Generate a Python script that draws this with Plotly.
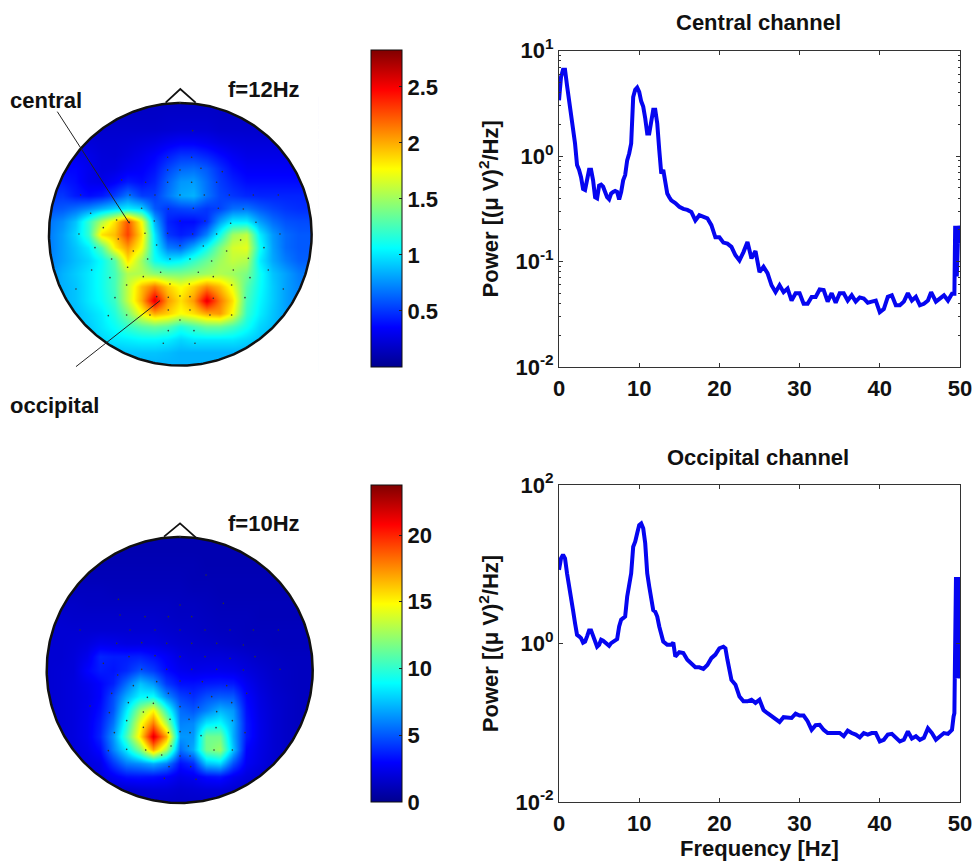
import numpy as np
import plotly.graph_objects as go

# ---------- spectra: log10 power ----------
central_freq = [0,.25,.5,.75,1,1.25,1.5,1.75,2,2.25,2.5,2.75,3,3.25,3.5,3.75,4,4.25,4.5,4.75,5,5.25,5.5,5.75,6,6.25,6.5,6.75,7,7.25,7.5,7.75,8,8.25,8.5,8.75,9,9.25,9.5,9.75,10,10.25,10.5,10.75,11,11.25,11.5,11.75,12,12.25,12.5,12.75,13,13.25,13.5,13.75,14,14.5,15,15.5,16,16.5,17,17.5,18,18.5,19,19.5,20,20.5,21,21.5,22,22.5,23,23.5,24,24.5,25,25.5,26,26.5,27,27.5,28,28.5,29,29.5,30,30.5,31,31.5,32,32.5,33,33.5,34,34.5,35,35.5,36,36.5,37,37.5,38,38.5,39,39.5,40,40.5,41,41.5,42,42.5,43,43.5,44,44.5,45,45.5,46,46.4,47,47.5,48,48.5,49,49.3,49.35,49.4,49.6,49.8,49.95]
central_log_power = [.53,.75,.82,.82,.67,.53,.39,.31,.12,-.085,-.13,-.2,-.31,-.32,-.23,-.13,-.13,-.23,-.39,-.4,-.28,-.27,-.29,-.34,-.39,-.41,-.355,-.34,-.33,-.34,-.41,-.34,-.23,-.18,-.04,.025,.12,.56,.63,.65,.61,.52,.47,.36,.215,.215,.31,.44,.44,.31,.06,-.165,-.13,-.23,-.355,-.39,-.42,-.445,-.48,-.5,-.51,-.53,-.61,-.56,-.575,-.59,-.655,-.77,-.77,-.82,-.83,-.86,-.94,-.99,-.91,-.815,-.97,-.9,-1.1,-1.05,-1.11,-1.225,-1.29,-1.225,-1.29,-1.255,-1.37,-1.3,-1.3,-1.4,-1.4,-1.335,-1.335,-1.265,-1.27,-1.38,-1.3,-1.39,-1.3,-1.3,-1.37,-1.32,-1.38,-1.34,-1.35,-1.39,-1.38,-1.37,-1.48,-1.45,-1.335,-1.32,-1.415,-1.415,-1.38,-1.3,-1.37,-1.335,-1.415,-1.4,-1.37,-1.29,-1.38,-1.35,-1.32,-1.37,-1.305,-1.305,-1.14,-.66,-1.14,-.66,-.83]

occipital_freq = [0,.25,.5,.75,1,1.25,1.5,1.75,2,2.25,2.5,2.75,3,3.25,3.5,3.75,4,4.25,4.5,4.75,5,5.25,5.5,5.75,6,6.25,6.5,6.75,7,7.25,7.5,7.75,8,8.25,8.5,8.75,9,9.25,9.5,9.75,10,10.25,10.5,10.75,11,11.25,11.5,11.75,12,12.25,12.5,12.75,13,13.5,14,14.25,14.5,15,15.5,16,16.5,17,17.5,18,18.5,19,19.5,20,20.5,20.75,21,21.5,22,22.5,23,23.5,24,24.5,25,25.5,26,26.5,27,27.5,28,28.5,29,29.5,30,30.5,31,31.5,32,32.5,33,33.5,34,35,35.5,36,36.5,37,37.5,38,38.5,39,39.5,40,40.5,41,41.5,42,42.5,43,43.5,44,44.5,45,45.5,46,46.5,47,47.5,48,48.5,49,49.2,49.3,49.35,49.5,49.6,49.75,49.9,50]
occipital_log_power = [.93,1.075,1.12,1.075,.885,.7,.59,.42,.255,.11,.09,.067,.01,.025,.09,.165,.165,.09,.004,-.04,-.017,.046,.034,.013,-.004,-.03,.004,.025,.038,.055,.215,.3,.32,.34,.59,.72,.885,1.22,1.285,1.39,1.495,1.515,1.455,1.265,.885,.72,.55,.42,.4,.34,.215,.11,.025,-.017,-.017,.013,-.165,-.11,-.12,-.205,-.25,-.3,-.3,-.32,-.27,-.185,-.14,-.06,-.04,-.06,-.205,-.46,-.52,-.67,-.73,-.73,-.71,-.75,-.71,-.84,-.88,-.92,-.96,-.99,-.93,-.94,-.94,-.885,-.91,-.91,-.98,-1.09,-1.03,-1.025,-1.09,-1.13,-1.13,-1.13,-1.17,-1.1,-1.13,-1.15,-1.185,-1.13,-1.15,-1.13,-1.13,-1.235,-1.215,-1.15,-1.14,-1.185,-1.235,-1.215,-1.11,-1.2,-1.17,-1.215,-1.19,-1.07,-1.13,-1.215,-1.17,-1.13,-1.14,-1.09,-.92,-.88,-.42,.84,-.44,.84,-.44,.42]

x_ticks = [0, 10, 20, 30, 40, 50]
central_y_ticks = [0.01, 0.1, 1, 10]
central_y_labels = ["10<sup>-2</sup>", "10<sup>-1</sup>", "10<sup>0</sup>", "10<sup>1</sup>"]
occipital_y_ticks = [0.01, 1, 100]
occipital_y_labels = ["10<sup>-2</sup>", "10<sup>0</sup>", "10<sup>2</sup>"]
minor_log_ticks = [m * d for d in (0.01, 0.1, 1) for m in range(2, 10)]

# ---------- scalp maps, head coordinates (radius about 394), rows top to bottom ----------
grid_12hz = [
[.17,.17,.17,.17,.17,.17,.17,.17,.17,.17,.17,.17,.17,.17,.17,.17,.17,.17,.17,.17,.17],
[.18,.18,.18,.18,.18,.18,.18,.18,.18,.19,.19,.19,.19,.18,.18,.18,.18,.18,.18,.18,.18],
[.2,.2,.2,.2,.2,.2,.2,.2,.2,.21,.22,.22,.22,.2,.2,.2,.2,.2,.2,.2,.2],
[.24,.24,.24,.24,.22,.22,.23,.25,.27,.31,.34,.34,.31,.27,.25,.24,.24,.24,.24,.24,.24],
[.3,.3,.3,.28,.24,.23,.26,.3,.35,.43,.5,.5,.45,.38,.32,.28,.28,.28,.28,.28,.28],
[.36,.36,.36,.3,.25,.26,.31,.34,.4,.54,.64,.66,.6,.48,.38,.33,.33,.33,.33,.33,.33],
[.42,.42,.38,.3,.28,.34,.42,.38,.45,.63,.77,.79,.66,.52,.44,.38,.38,.38,.38,.38,.38],
[.5,.5,.42,.38,.42,.52,.68,.52,.52,.68,.82,.85,.68,.55,.5,.46,.45,.45,.45,.45,.45],
[.58,.6,.66,.74,.85,.95,1.02,.95,.6,.5,.54,.56,.5,.54,.66,.68,.6,.54,.5,.48,.48],
[.68,.75,.9,1.2,1.55,1.85,2.25,1.75,.85,.45,.38,.38,.48,.8,1.02,1.02,.8,.66,.58,.56,.56],
[.7,.8,.95,1.2,1.85,1.95,2.3,1.85,1.0,.5,.43,.48,.72,1.1,1.5,1.6,1.02,.78,.65,.6,.6],
[.7,.8,.9,1.02,1.3,1.8,2.05,1.75,1.05,.7,.65,.85,1.1,1.4,1.65,1.7,1.1,.8,.65,.6,.6],
[.72,.8,.88,.95,1.08,1.3,1.85,1.5,1.1,1.0,1.05,1.2,1.35,1.5,1.6,1.55,1.02,.82,.7,.62,.62],
[.75,.85,.92,1.0,1.1,1.25,1.55,1.55,1.45,1.4,1.4,1.45,1.5,1.55,1.5,1.4,1.1,.9,.8,.7,.68],
[.78,.85,.9,1.0,1.1,1.25,1.6,1.95,2.15,1.9,1.75,1.9,2.1,1.95,1.7,1.3,1.08,.92,.8,.72,.7],
[.8,.85,.9,1.0,1.08,1.22,1.6,2.0,2.55,2.05,1.85,2.05,2.55,2.15,1.85,1.25,1.05,.92,.8,.72,.7],
[.8,.85,.88,.95,1.02,1.15,1.4,1.75,2.0,1.9,1.75,1.85,2.0,2.05,1.75,1.2,1.02,.9,.8,.72,.7],
[.8,.85,.88,.92,1.0,1.08,1.2,1.3,1.35,1.3,1.15,1.25,1.35,1.35,1.25,1.1,.95,.88,.8,.75,.72],
[.85,.85,.88,.9,.95,1.0,1.02,1.05,1.05,1.02,.95,1.0,1.0,1.0,1.0,.95,.9,.85,.8,.75,.75],
[.85,.85,.85,.85,.85,.88,.9,.9,.9,.88,.85,.85,.85,.85,.85,.85,.85,.82,.8,.75,.75],
[.85,.85,.85,.85,.85,.85,.85,.85,.85,.85,.85,.85,.85,.85,.85,.85,.85,.82,.8,.75,.75],
]
grid_10hz = [
[.9,.9,.9,.9,.9,.9,.9,.9,.9,.9,.9,.9,.9,.9,.9,.9,.9,.9,.9,.9,.9],
[.9,.9,.9,.9,.9,.9,.9,.9,.9,.9,.9,.9,.9,.9,.9,.9,.9,.9,.9,.9,.9],
[1.0,1.0,1.0,1.0,1.0,1.0,1.0,1.0,1.0,1.0,1.0,1.0,.9,.9,.9,.9,.9,.9,.9,.9,.9],
[1.2,1.2,1.2,1.1,1.1,1.1,1.1,1.1,1.1,1.1,1.1,1.0,1.0,1.0,1.0,1.0,1.0,1.0,1.0,1.0,1.0],
[1.3,1.3,1.3,1.3,1.3,1.2,1.2,1.2,1.2,1.2,1.2,1.1,1.1,1.0,1.0,1.0,1.0,1.0,1.0,1.0,1.0],
[1.5,1.5,1.5,1.4,1.4,1.4,1.4,1.4,1.4,1.4,1.3,1.3,1.2,1.1,1.1,1.1,1.1,1.1,1.1,1.1,1.1],
[1.7,1.7,1.6,1.6,1.6,1.6,1.6,1.6,1.6,1.5,1.4,1.4,1.3,1.2,1.2,1.2,1.1,1.1,1.1,1.1,1.1],
[1.8,1.8,1.8,1.8,1.8,1.8,1.8,1.8,1.8,1.7,1.6,1.5,1.4,1.3,1.3,1.2,1.2,1.2,1.2,1.2,1.2],
[1.8,1.8,1.9,2.1,2.5,2.4,2.2,2.2,2.2,2.0,1.8,1.7,1.6,1.5,1.4,1.3,1.3,1.2,1.2,1.2,1.2],
[1.8,1.8,2.0,2.5,3.8,3.6,3.6,3.7,3.3,2.8,2.2,2.0,2.0,2.0,1.9,1.7,1.5,1.4,1.3,1.3,1.3],
[1.8,1.9,2.0,3.0,3.6,3.4,3.9,4.9,4.3,3.2,2.6,2.4,2.5,2.5,2.4,2.1,1.8,1.5,1.4,1.3,1.3],
[1.8,1.9,2.1,2.5,3.0,3.7,5.5,7.5,6.5,4.3,3.3,3.3,3.5,3.6,3.5,2.6,2.0,1.6,1.4,1.3,1.3],
[1.8,1.9,2.1,2.4,3.0,4.7,7.0,8.8,9.0,6.3,4.5,4.0,4.8,5.1,5.0,3.0,2.2,1.7,1.5,1.3,1.3],
[1.8,1.9,2.1,2.5,3.3,5.0,8.5,12.5,15.0,10.0,5.5,5.0,6.0,7.2,6.5,3.3,2.3,1.8,1.5,1.3,1.3],
[1.8,1.9,2.1,2.6,3.6,5.7,9.5,14.5,18.0,13.0,6.0,6.2,8.5,9.0,7.0,3.5,2.4,1.8,1.5,1.3,1.3],
[1.8,1.9,2.1,2.6,3.8,6.5,10.5,15.5,21.5,17.0,6.5,6.5,11.5,11.5,7.0,3.5,2.4,1.8,1.5,1.3,1.3],
[1.8,1.9,2.0,2.4,3.2,6.0,8.5,12.0,17.0,13.0,5.5,7.0,11.5,12.5,7.5,3.0,2.3,1.8,1.5,1.3,1.3],
[1.7,1.8,1.9,2.1,2.4,4.2,5.8,6.3,7.0,6.0,3.3,4.0,7.5,8.0,4.8,2.7,2.2,1.7,1.4,1.3,1.3],
[1.6,1.7,1.8,1.9,2.1,2.7,3.3,3.4,3.3,3.0,2.4,2.6,3.2,3.4,2.6,2.1,1.8,1.5,1.4,1.3,1.3],
[1.5,1.5,1.5,1.5,1.5,1.6,1.7,1.9,2.0,2.0,1.8,1.9,2.0,2.0,1.8,1.6,1.5,1.4,1.3,1.3,1.3],
[1.3,1.3,1.3,1.3,1.3,1.3,1.4,1.4,1.5,1.5,1.5,1.5,1.5,1.5,1.4,1.4,1.3,1.3,1.3,1.3,1.3],
]
head_12_radius, head_10_radius = 394, 399
elec12_x = [-1,37,-38,34,-38,-1,62,126,-176,-38,-104,34,109,-299,-151,-76,-1,72,147,219,294,-116,-36,39,114,189,-269,-191,-153,-78,-1,74,151,227,-304,-231,-186,-106,-38,37,109,181,299,-256,-141,-71,-1,69,139,251,-206,-98,-31,29,94,204,-266,-158,-59,54,159,264,-211,-111,-31,27,99,209,-313,-161,-71,-1,-36,29,154,309,-196,-36,29,99,194,-216,-161,-91,-1,89,154,-36,41,-51,44]
elec12_y = [395,311,231,231,193,193,198,188,163,156,156,156,156,118,118,118,118,118,118,118,118,78,76,78,78,76,63,43,36,40,40,40,33,36,1,20,-14,3,3,1,1,-17,1,-40,-50,-32,-34,-35,-50,-40,-74,-74,-74,-74,-80,-72,-107,-99,-114,-114,-107,-107,-130,-127,-149,-149,-127,-130,-164,-152,-187,-185,-189,-187,-152,-164,-190,-227,-227,-192,-190,-244,-242,-242,-257,-242,-242,-289,-289,-327,-327]
elec10_x = [1,79,-184,1,131,-179,-104,-34,36,-299,-149,-74,1,76,151,221,296,-189,-114,-39,36,111,191,-229,-152,-74,1,76,151,226,-186,-114,-39,36,111,191,301,-139,-69,1,68,141,-204,-97,-34,31,96,201,-154,-79,1,56,111,156,-269,-211,-109,-29,28,109,158,-159,-196,-109,-34,1,31,64,196,-214,-159,-102,-54,-26,26,103,158,1,31,-32,33,-46,49]
elec10_y = [400,285,212,195,200,165,160,160,160,120,120,120,120,120,120,120,120,80,82,80,80,80,75,20,40,43,40,40,35,40,-15,2,2,2,2,0,2,-47,-35,-33,-35,-47,-70,-82,-70,-70,-80,-70,-98,-100,-110,-112,-125,-98,-108,-128,-126,-148,-148,-173,-152,-152,-188,-172,-188,-185,-188,-197,-188,-242,-238,-240,-255,-228,-228,-240,-240,-258,-258,-290,-290,-325,-328]

jet = [[0, "rgb(0,0,143)"], [0.125, "rgb(0,0,255)"], [0.375, "rgb(0,255,255)"],
       [0.625, "rgb(255,255,0)"], [0.875, "rgb(255,0,0)"], [1, "rgb(128,0,0)"]]

W, H = 972, 861
FONT = dict(family="Liberation Sans", size=22, color="#111111", weight="bold")
UNITS_PER_PX = 3.0

def xdom(a, b): return [a / W, b / W]
def ydom(top, bot): return [1 - bot / H, 1 - top / H]

fig = go.Figure()

def add_topo(idx, grid, radius, cx, cy, box, cmax, ticks, cbar_top, nose, ex, ey):
    ax = "" if idx == 1 else str(idx)
    xa, ya = "x" + ax, "y" + ax
    n = len(grid)
    step = radius / 10
    gx = [step * (i - 10) for i in range(n)]
    gy = [step * (i - 10) for i in range(n)]
    fig.add_trace(go.Heatmap(
        z=grid[::-1], x=gx, y=gy, zsmooth="best", colorscale=jet, zmin=0, zmax=cmax, xaxis=xa, yaxis=ya,
        colorbar=dict(x=371 / W, xanchor="left", xpad=0, ypad=0, thickness=31, thicknessmode="pixels",
                      len=317 / H, lenmode="fraction", y=1 - (cbar_top + 317) / H, yanchor="bottom",
                      tickvals=ticks, ticktext=[f"{t:g}" for t in ticks], ticks="inside", ticklen=3,
                      tickcolor="#222222", outlinecolor="#111111", outlinewidth=1, tickfont=FONT),
        hoverinfo="skip"))
    t = np.linspace(0, 2 * np.pi, 361)
    m = radius + 22
    # white cover around the head: the ring's inner edge runs the opposite way, leaving a hole
    rx = [-m, m, m, -m, -m, None] + list(radius * np.cos(t[::-1]))
    ry = [-m, -m, m, m, -m, None] + list(radius * np.sin(t[::-1]))
    fig.add_trace(go.Scatter(x=rx, y=ry, mode="lines", fill="toself", fillcolor="white", line=dict(width=0),
                             xaxis=xa, yaxis=ya, showlegend=False, hoverinfo="skip"))
    fig.add_trace(go.Scatter(x=radius * np.cos(t), y=radius * np.sin(t), mode="lines",
                             line=dict(color="#111111", width=2.5), xaxis=xa, yaxis=ya,
                             showlegend=False, hoverinfo="skip"))
    fig.add_trace(go.Scatter(x=nose[0], y=nose[1], mode="lines", line=dict(color="#111111", width=1.8),
                             xaxis=xa, yaxis=ya, showlegend=False, hoverinfo="skip"))
    fig.add_trace(go.Scatter(x=ex, y=ey, mode="markers", marker=dict(color="#333333", size=1.6),
                             xaxis=xa, yaxis=ya, showlegend=False, hoverinfo="skip"))
    left, right, top, bot = box
    axis = dict(visible=False, showgrid=False, zeroline=False)
    fig.update_layout({
        ("xaxis" + ax): dict(axis, domain=xdom(left, right), anchor=ya,
                             range=[(left - cx) * UNITS_PER_PX, (right - cx) * UNITS_PER_PX]),
        ("yaxis" + ax): dict(axis, domain=ydom(top, bot), anchor=xa,
                             range=[(cy - bot) * UNITS_PER_PX, (cy - top) * UNITS_PER_PX]),
    })
    return xa, ya

xa1, ya1 = add_topo(1, grid_12hz, head_12_radius, 180.3, 234.3, (0, 360, 85, 425), 2.83,
                    [0.5, 1, 1.5, 2, 2.5], 50, ([-44, 0, 46], [395, 436, 395]), elec12_x, elec12_y)
# pointer lines from the labels to the two channels
fig.add_trace(go.Scatter(x=[-369, -153], y=[368, 33], mode="lines", line=dict(color="#222222", width=1),
                         xaxis=xa1, yaxis=ya1, showlegend=False, hoverinfo="skip"))
fig.add_trace(go.Scatter(x=[-313, -61], y=[-397, -199], mode="lines", line=dict(color="#222222", width=1),
                         xaxis=xa1, yaxis=ya1, showlegend=False, hoverinfo="skip"))
add_topo(2, grid_10hz, head_10_radius, 179.7, 670, (0, 360, 515, 815), 23.75,
         [0, 5, 10, 15, 20], 485, ([-47, 1, 48], [400, 440, 398]), elec10_x, elec10_y)

def add_spectrum(idx, freq, logp, dom_y, yr, yticks, ylabels, minor, xtitle):
    ax = str(idx)
    fig.add_trace(go.Scatter(x=freq, y=10 ** np.array(logp), mode="lines",
                             line=dict(color="#0505f0", width=4), xaxis="x" + ax, yaxis="y" + ax,
                             showlegend=False))
    common = dict(showline=True, linecolor="#333333", linewidth=1, mirror="ticks", ticks="inside",
                  ticklen=4, tickcolor="#333333", showgrid=False, zeroline=False, tickfont=FONT,
                  ticklabeloverflow="allow")
    yax = dict(common, type="log", domain=ydom(*dom_y), anchor="x" + ax, range=yr, tickmode="array",
               tickvals=yticks, ticktext=ylabels,
               title=dict(text="Power [(μ V)<sup>2</sup>/Hz]", font=FONT, standoff=10))
    if minor:
        yax["minor"] = dict(tickvals=minor, ticks="inside", ticklen=2, tickcolor="#333333")
    xax = dict(common, domain=xdom(559, 960), anchor="y" + ax, range=[0, 50], tickmode="array", tickvals=x_ticks,
               ticklabelstandoff=2)
    if xtitle:
        xax["title"] = dict(text=xtitle, font=FONT, standoff=3)
    fig.update_layout({"xaxis" + ax: xax, "yaxis" + ax: yax})

add_spectrum(3, central_freq, central_log_power, (50.7, 367), [-2, 1], central_y_ticks, central_y_labels,
             minor_log_ticks, None)
add_spectrum(4, occipital_freq, occipital_log_power, (485, 802), [-2, 2], occipital_y_ticks, occipital_y_labels,
             None, "Frequency [Hz]")

def label(text, x, y, anchor="left"):
    return dict(text=text, x=x / W, y=1 - y / H, xref="paper", yref="paper", showarrow=False,
                xanchor=anchor, yanchor="middle", font=FONT, xshift=0, yshift=0)

fig.update_layout(
    width=W, height=H, margin=dict(l=0, r=0, t=0, b=0, autoexpand=False), paper_bgcolor="white", plot_bgcolor="white",
    showlegend=False,
    annotations=[
        label("central", 8, 100), label("occipital", 8, 405),
        label("f=12Hz", 226, 89), label("f=10Hz", 226, 523),
        label("Central channel", 758, 22, "center"), label("Occipital channel", 758, 457, "center"),
    ],
)

fig.write_html("out.html", config={"displayModeBar": False},
               post_script="document.body.style.margin='0';")
